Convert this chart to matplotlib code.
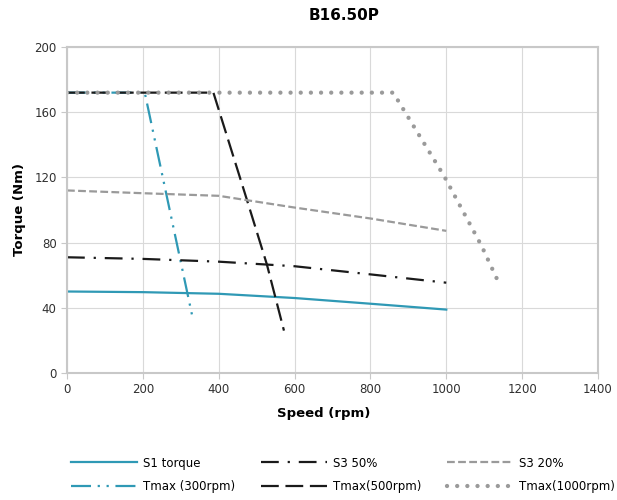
import matplotlib
matplotlib.use('Agg')
import matplotlib.pyplot as plt
import numpy as np

# curve data (speed in rpm, torque in Nm)
s1_speed = [0, 200, 400, 600, 800, 1000]
s1_torque = [50, 49.6, 48.6, 46, 42.5, 38.9]
s3_50_speed = [0, 200, 400, 600, 800, 1000]
s3_50_torque = [71, 70, 68.3, 65.5, 60.5, 55.4]
s3_20_speed = [0, 200, 400, 600, 800, 1000]
s3_20_torque = [112, 110.3, 108.7, 101.5, 94.8, 87.2]
t300_speed = [0, 205, 332]
t300_torque = [172, 172, 33]
t500_speed = [0, 386, 474, 527, 572]
t500_torque = [172, 172, 106.5, 66.6, 26]
t1000_speed = [0, 860, 995, 1093, 1137]
t1000_torque = [172, 172, 120.5, 78, 56]

TEAL = '#2f99b5'
BLACK = '#1a1a1a'
GRAY = '#9a9a9a'
FS = 8.5

plt.rcParams['font.family'] = 'DejaVu Sans'
fig = plt.figure(figsize=(6.17, 5.0), dpi=100)
ax = fig.add_axes([67/617, 127/500, 531/617, 326/500])

ax.plot(s1_speed, s1_torque, color=TEAL, lw=1.6, label='S1 torque')
ax.plot(t300_speed, t300_torque, color=TEAL, lw=1.6, dashes=(9, 3, 1, 3, 1, 3), label='Tmax (300rpm)')
ax.plot(s3_50_speed, s3_50_torque, color=BLACK, lw=1.6, dashes=(8, 4, 1, 4), label='S3 50%')
ax.plot(t500_speed, t500_torque, color=BLACK, lw=1.6, dashes=(8, 3), label='Tmax(500rpm)')
ax.plot(s3_20_speed, s3_20_torque, color=GRAY, lw=1.6, dashes=(3.5, 1.5), label='S3 20%')
ax.plot(t1000_speed, t1000_torque, color=GRAY, lw=3.1, dashes=(0.01, 2.35),
        dash_capstyle='round', label='Tmax(1000rpm)')

ax.set_xlim(0, 1400)
ax.set_ylim(0, 200)
ax.set_xticks(np.arange(0, 1401, 200))
ax.set_yticks(np.arange(0, 201, 40))
ax.grid(True, color='#d9d9d9', lw=0.8)
ax.set_axisbelow(True)
for s in ax.spines.values():
    s.set_color('#c8c8c8')
    s.set_linewidth(1.5)
ax.tick_params(axis='both', colors='#c8c8c8', labelcolor='#303030', labelsize=FS, length=4, width=0.8)

ax.set_xlabel('Speed (rpm)', fontsize=9.5, fontweight='bold', labelpad=12)
ax.xaxis.set_label_coords((324 - 67) / 531, -0.105)
ax.set_ylabel('Torque (Nm)', fontsize=9.5, fontweight='bold', labelpad=6)
fig.text(344/617, 1 - 16/500, 'B16.50P', fontsize=11, fontweight='bold', ha='center', va='center')

fig.legend(loc='upper left', bbox_to_anchor=(60/617, 1 - 446/500), ncol=3, frameon=False,
           fontsize=FS, handlelength=5.6, columnspacing=2.2, handletextpad=0.5, labelspacing=0.9)

fig.savefig('out.png', dpi=100)
